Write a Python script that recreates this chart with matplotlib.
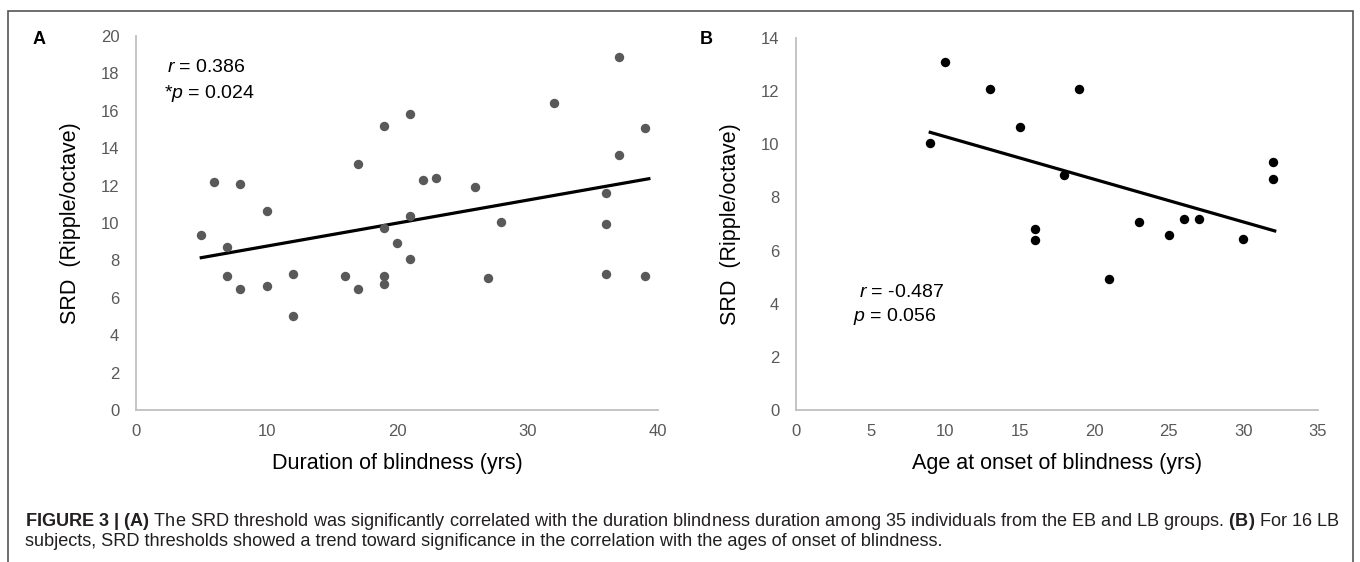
import numpy as np
import matplotlib
matplotlib.use("Agg")
import matplotlib.pyplot as plt
from matplotlib.patches import Rectangle

plt.rcParams['font.family'] = ['Liberation Sans', 'DejaVu Sans']
plt.rcParams['mathtext.fontset'] = 'custom'
plt.rcParams['mathtext.rm'] = 'Liberation Sans'
plt.rcParams['mathtext.it'] = 'Liberation Sans:italic'
plt.rcParams['mathtext.bf'] = 'Liberation Sans:bold'

# panel A: duration of blindness vs SRD threshold
dur_yrs = [5, 6, 7, 7, 8, 8, 10, 10, 12, 12, 16, 17, 17, 19, 19, 19, 19, 20,
           21, 21, 21, 22, 23, 26, 27, 28, 32, 36, 36, 36, 37, 37, 39, 39]
srd_a = [9.34, 12.2, 8.73, 7.16, 12.1, 6.48, 10.66, 6.65, 7.28, 5.03, 7.17,
         13.13, 6.46, 15.17, 9.71, 7.17, 6.76, 8.91, 15.81, 10.38, 8.10, 12.31,
         12.42, 11.9, 7.07, 10.05, 16.42, 11.59, 9.95, 7.28, 18.89, 13.63,
         15.08, 7.17]
fit_a = [0.1231, 7.53]   # slope, intercept of the trend line

# panel B: age at onset vs SRD threshold
onset_yrs = [9, 10, 13, 15, 16, 16, 18, 19, 21, 23, 25, 26, 27, 30, 32, 32]
srd_b = [10.06, 13.09, 12.09, 10.64, 6.81, 6.38, 8.83, 12.09, 4.93, 7.09,
         6.59, 7.18, 7.18, 6.44, 9.33, 8.68]
fit_b = [-0.1606, 11.895]

W, H = 1360, 562
fig = plt.figure(figsize=(W / 100, H / 100), dpi=100)

tick_col = '#595959'
spine_col = '#bfbfbf'


def style_axes(ax, xmax, xstep, ymax):
    ax.set_xlim(0, xmax)
    ax.set_ylim(0, ymax)
    ax.set_xticks(np.arange(0, xmax + 1, xstep))
    ax.set_yticks(np.arange(0, ymax + 1, 2))
    for s in ['top', 'right']:
        ax.spines[s].set_visible(False)
    for s in ['left', 'bottom']:
        ax.spines[s].set_color(spine_col)
        ax.spines[s].set_linewidth(1.3)
    ax.tick_params(length=0, labelsize=12, labelcolor=tick_col, pad=10)
    ax.tick_params(axis='y', pad=12)
    ax.patch.set_visible(False)


ax1 = fig.add_axes([136 / W, 1 - 410 / H, 522 / W, 374 / H])
ax2 = fig.add_axes([796 / W, 1 - 410 / H, 522 / W, 372 / H])

style_axes(ax1, 40, 10, 20)
style_axes(ax2, 35, 5, 14)

ax1.scatter(dur_yrs, srd_a, s=46, color='#595959', zorder=3, linewidths=0)
xa = np.array([min(dur_yrs), max(dur_yrs) + 0.3])
ax1.plot(xa, fit_a[0] * xa + fit_a[1], color='black', lw=2.3, zorder=2)

ax2.scatter(onset_yrs, srd_b, s=46, color='black', zorder=3, linewidths=0)
xb = np.array([min(onset_yrs), max(onset_yrs) + 0.1])
ax2.plot(xb, fit_b[0] * xb + fit_b[1], color='black', lw=2.3, zorder=2)

for ax, xl in [(ax1, 'Duration of blindness (yrs)'),
               (ax2, 'Age at onset of blindness (yrs)')]:
    ax.set_xlabel(xl, fontsize=15.5, labelpad=10)
    ax.set_ylabel('SRD  (Ripple/octave)', fontsize=15.5, labelpad=14)

ax1.text(2.4, 18.3, '$r$ = 0.386', fontsize=14, va='center', ha='left')
ax1.text(2.15, 16.95, '*$p$ = 0.024', fontsize=14, va='center', ha='left')
ax2.text(4.2, 4.44, '$r$ = -0.487', fontsize=14, va='center', ha='left')
ax2.text(3.8, 3.52, '$p$ = 0.056', fontsize=14, va='center', ha='left')

fig.text(39 / W, 1 - 39 / H, 'A', fontsize=13, fontweight='bold',
         ha='center', va='center')
fig.text(706 / W, 1 - 39 / H, 'B', fontsize=13, fontweight='bold',
         ha='center', va='center')

cap1 = (r'$\mathbf{FIGURE\ 3\ |\ (A)}$ The SRD threshold was significantly '
        r'correlated with the duration blindness duration among 35 individuals '
        r'from the EB and LB groups. $\mathbf{(B)}$ For 16 LB')
cap2 = ('subjects, SRD thresholds showed a trend toward significance in the '
        'correlation with the ages of onset of blindness.')
fig.text(25 / W, 1 - 521 / H, cap1, fontsize=13.1, va='center', color='#231f20')
fig.text(25 / W, 1 - 541 / H, cap2, fontsize=13.1, va='center', color='#231f20')

fig.patches.append(Rectangle((8 / W, -0.1), 1345 / W, 1.1 - 11 / H,
                             transform=fig.transFigure, fill=False,
                             edgecolor='#555555', lw=1.2))

fig.savefig('out.png', dpi=100)
